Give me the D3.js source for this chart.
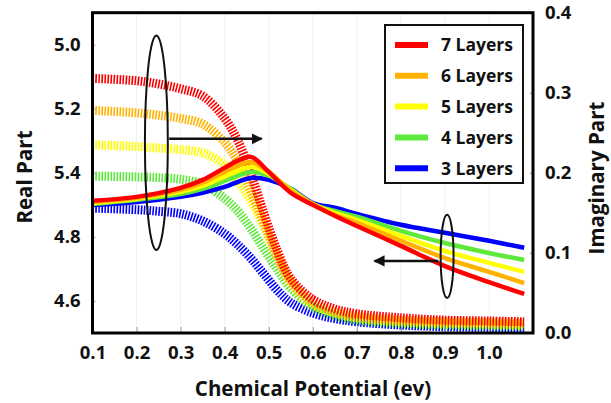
<!DOCTYPE html>
<html><head><meta charset="utf-8">
<script src="https://cdn.jsdelivr.net/npm/d3@7"></script>
<style>
body{margin:0;background:#fff}
svg{display:block}
text{font-family:"Open Sans",sans-serif;font-weight:bold;fill:#111}
</style>
</head><body>
<svg id="chart" width="611" height="403"></svg>
<script>
// ---- data ----
const layerNames = ["7 Layers","6 Layers","5 Layers","4 Layers","3 Layers"];
const layerColors = ["#ff0000","#ffb300","#ffff00","#5ee83c","#0000ff"];

// real part (left axis), solid lines
const muReal = [0.1,0.2,0.3,0.35,0.4,0.43,0.46,0.5,0.55,0.6,0.65,0.7,0.8,0.9,1.0,1.08];
const real7 = [4.913,4.925,4.953,4.978,5.016,5.038,5.050,5.003,4.938,4.900,4.866,4.834,4.772,4.709,4.659,4.622];
const real6 = [4.909,4.922,4.947,4.969,5.003,5.022,5.034,5.003,4.944,4.903,4.869,4.844,4.788,4.734,4.691,4.656];
const real5 = [4.906,4.919,4.941,4.959,4.988,5.006,5.019,4.997,4.947,4.903,4.875,4.853,4.803,4.756,4.719,4.691];
const real4 = [4.903,4.916,4.934,4.950,4.975,4.991,5.003,4.991,4.950,4.903,4.881,4.863,4.819,4.781,4.750,4.728];
const real3 = [4.900,4.909,4.925,4.938,4.956,4.972,4.984,4.978,4.950,4.906,4.891,4.872,4.838,4.813,4.788,4.766];

// imaginary part (right axis), dashed lines
const muImag = [0.1,0.2,0.25,0.3,0.35,0.4,0.43,0.46,0.49,0.52,0.55,0.6,0.65,0.7,0.8,0.9,1.0,1.08];
const imag7 = [0.318,0.315,0.311,0.305,0.296,0.268,0.240,0.198,0.148,0.102,0.068,0.042,0.030,0.024,0.019,0.016,0.015,0.014];
const imag6 = [0.278,0.275,0.272,0.268,0.261,0.238,0.214,0.176,0.136,0.095,0.064,0.038,0.027,0.021,0.016,0.014,0.013,0.012];
const imag5 = [0.235,0.233,0.231,0.229,0.225,0.210,0.190,0.165,0.132,0.095,0.063,0.036,0.025,0.019,0.014,0.012,0.011,0.010];
const imag4 = [0.196,0.195,0.194,0.192,0.186,0.168,0.152,0.130,0.104,0.079,0.056,0.033,0.022,0.016,0.012,0.010,0.009,0.009];
const imag3 = [0.156,0.154,0.152,0.149,0.140,0.124,0.110,0.093,0.073,0.053,0.038,0.025,0.018,0.014,0.010,0.008,0.007,0.007];

// axis ticks
const xTicks = [0.1,0.2,0.3,0.4,0.5,0.6,0.7,0.8,0.9,1.0];
const leftTickValues = [4.6,4.8,5.0,5.2,5.4];
const leftTickLabels = ["4.6","4.8","5.4","5.2","5.0"];
const rightTicks = [0.0,0.1,0.2,0.3,0.4];

// annotations (data units)
const leftEllipse = {mu:0.245, v:0.2375, rmu:0.026, rv:0.134};
const leftArrow = {mu0:0.274, mu1:0.484, v:0.2425};
const rightEllipse = {mu:0.905, v:0.0956, rmu:0.0147, rv:0.052};
const rightArrow = {mu0:0.885, mu1:0.74, v:0.09};

// ---- drawing ----
const svg = d3.select("#chart");
const W = 611, H = 403;
const m = {l:92.5, t:12.7, r:78, b:70};
const x = d3.scaleLinear().domain([0.1,1.1]).range([m.l, W-m.r]);
const yL = d3.scaleLinear().domain([4.5,5.5]).range([H-m.b, m.t]);
const yR = d3.scaleLinear().domain([0,0.4]).range([H-m.b, m.t]);

// faint grid
svg.append("g").selectAll("line").data(xTicks.slice(1)).join("line")
  .attr("x1",d=>x(d)).attr("x2",d=>x(d)).attr("y1",m.t).attr("y2",H-m.b)
  .attr("stroke","#f0f0f0").attr("stroke-width",1);

const realSeries = [real7,real6,real5,real4,real3];
const imagSeries = [imag7,imag6,imag5,imag4,imag3];

const lineReal = d3.line().x((d,i)=>x(muReal[i])).y(d=>yL(d)).curve(d3.curveCatmullRom.alpha(0.5));
const lineImag = d3.line().x((d,i)=>x(muImag[i])).y(d=>yR(d)).curve(d3.curveCatmullRom.alpha(0.5));

const order = [4,3,2,1,0];
// dashed imaginary
svg.append("g").selectAll("path").data(order).join("path")
  .attr("d",i=>lineImag(imagSeries[i]))
  .attr("fill","none").attr("stroke",i=>layerColors[i])
  .attr("stroke-width",9).attr("stroke-dasharray","1.6,1.4");
// solid real
svg.append("g").selectAll("path").data(order).join("path")
  .attr("d",i=>lineReal(realSeries[i]))
  .attr("fill","none").attr("stroke",i=>layerColors[i])
  .attr("stroke-width",4.5);

const FS = 18.5;
// axes
const gx = svg.append("g").attr("transform",`translate(0,${H-m.b})`)
  .call(d3.axisBottom(x).tickValues(xTicks).tickSize(-6).tickPadding(13).tickFormat(d3.format(".1f")));
gx.select(".domain").remove();
gx.selectAll("line").attr("stroke","#999");
gx.selectAll("text").attr("font-size",FS).attr("font-family","Open Sans").attr("font-weight","bold").attr("fill","#111");

const gl = svg.append("g").attr("transform",`translate(${m.l},0)`)
  .call(d3.axisLeft(yL).tickValues(leftTickValues).tickSize(-3).tickPadding(12)
    .tickFormat((d,i)=>leftTickLabels[i]));
gl.select(".domain").remove();
gl.selectAll("line").attr("stroke","#999");
gl.selectAll("text").attr("font-size",FS).attr("font-family","Open Sans").attr("font-weight","bold").attr("fill","#111");

const gr = svg.append("g").attr("transform",`translate(${W-m.r},0)`)
  .call(d3.axisRight(yR).tickValues(rightTicks).tickSize(-3).tickPadding(12).tickFormat(d3.format(".1f")));
gr.select(".domain").remove();
gr.selectAll("line").attr("stroke","#999");
gr.selectAll("text").attr("font-size",FS).attr("font-family","Open Sans").attr("font-weight","bold").attr("fill","#111");

// frame
svg.append("rect").attr("x",m.l).attr("y",m.t).attr("width",W-m.r-m.l).attr("height",H-m.b-m.t)
  .attr("fill","none").attr("stroke","#000").attr("stroke-width",3);

// annotations
svg.append("defs").append("marker").attr("id","ah").attr("viewBox","0 0 10 10")
  .attr("refX",9).attr("refY",5).attr("markerWidth",4.5).attr("markerHeight",4.5).attr("orient","auto")
  .append("path").attr("d","M0,0 L10,5 L0,10 z").attr("fill","#111");
[leftEllipse,rightEllipse].forEach(e=>{
  svg.append("ellipse").attr("cx",x(e.mu)).attr("cy",yR(e.v))
    .attr("rx",x(e.mu+e.rmu)-x(e.mu)).attr("ry",yR(e.v)-yR(e.v+e.rv))
    .attr("fill","none").attr("stroke","#111").attr("stroke-width",2);
});
[leftArrow,rightArrow].forEach(a=>{
  svg.append("line").attr("x1",x(a.mu0)).attr("x2",x(a.mu1)).attr("y1",yR(a.v)).attr("y2",yR(a.v))
    .attr("stroke","#111").attr("stroke-width",2.5).attr("marker-end","url(#ah)");
});

// legend
const lg = svg.append("g");
lg.append("rect").attr("x",385).attr("y",25).attr("width",138).attr("height",158)
  .attr("fill","#fff").attr("stroke","#111").attr("stroke-width",2);
layerNames.forEach((n,i)=>{
  const yy = 45 + i*30.8;
  lg.append("line").attr("x1",395).attr("x2",428).attr("y1",yy).attr("y2",yy)
    .attr("stroke",layerColors[i]).attr("stroke-width",6);
  lg.append("text").attr("x",441).attr("y",yy).attr("dy","0.36em").attr("font-size",17.5).text(n);
});

// axis titles
svg.append("text").attr("x",313).attr("y",389).attr("dy","0.35em").attr("text-anchor","middle")
  .attr("font-size",20.5).text("Chemical Potential (ev)");
svg.append("text").attr("transform","translate(25,177) rotate(-90)").attr("dy","0.35em")
  .attr("text-anchor","middle").attr("font-size",20.5).text("Real Part");
svg.append("text").attr("transform","translate(597,178) rotate(-90)").attr("dy","0.35em")
  .attr("text-anchor","middle").attr("font-size",20.5).text("Imaginary Part");
</script>
</body></html>
